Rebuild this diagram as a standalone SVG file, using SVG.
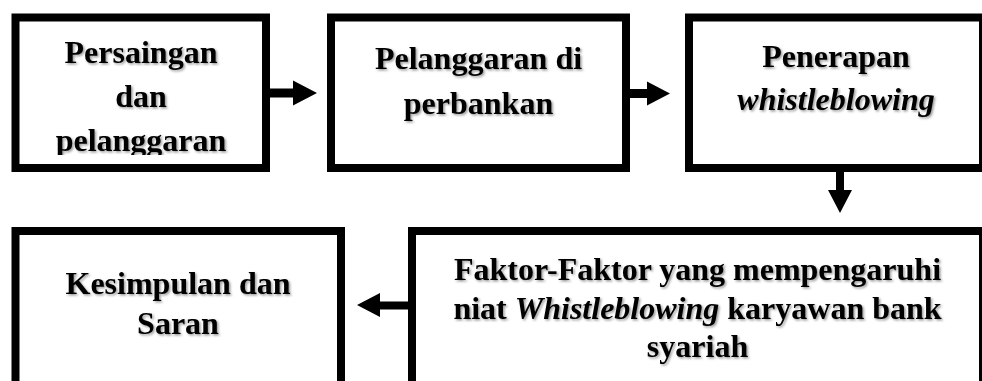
<svg xmlns="http://www.w3.org/2000/svg" width="982" height="381" viewBox="0 0 982 381">
<defs>
<style>
.box{fill:#fff;stroke:#000;stroke-width:8}
.t{font-family:"Liberation Serif","Times New Roman",serif;font-weight:bold;font-size:32px;fill:#000;text-anchor:middle}
.i{font-style:italic}
.arr{fill:#000;stroke:none}
</style>
<filter id="sh" x="-10%" y="-30%" width="120%" height="160%"><feDropShadow dx="1.5" dy="1.5" stdDeviation="1" flood-color="#000" flood-opacity="0.4"/></filter>
<clipPath id="c1"><rect x="20" y="22" width="242" height="133"/></clipPath>
</defs>
<rect width="982" height="381" fill="#fff"/>
<g id="connectors">
<polygon class="arr" points="270,88.5 293,88.5 293,80.5 317,93 293,105.5 293,97.5 270,97.5"/>
<polygon class="arr" points="630,89 647,89 647,81.5 670,93.5 647,105.5 647,98 630,98"/>
<polygon class="arr" points="836,172 844,172 844,190 852,190 840,213 828,190 836,190"/>
<polygon class="arr" points="408,301.5 380,301.5 380,293 357,305 380,317 380,309.5 408,309.5"/>
</g>
<g id="node1">
<rect class="box" x="15.5" y="17.5" width="250.5" height="150.5"/>
<g clip-path="url(#c1)"><text class="t" filter="url(#sh)"><tspan x="141" y="63">Persaingan</tspan><tspan x="141" y="107">dan</tspan><tspan x="141" y="151">pelanggaran</tspan></text></g>
</g>
<g id="node2">
<rect class="box" x="331" y="17.5" width="295" height="150.5"/>
<text class="t" filter="url(#sh)"><tspan x="478.5" y="69">Pelanggaran di</tspan><tspan x="478.5" y="114">perbankan</tspan></text>
</g>
<g id="node3">
<rect class="box" x="689" y="17.5" width="294" height="150.5"/>
<text class="t" filter="url(#sh)"><tspan x="836" y="67">Penerapan</tspan><tspan class="i" x="836" y="110">whistleblowing</tspan></text>
</g>
<g id="node4">
<rect class="box" x="412" y="231" width="571" height="154"/>
<text class="t" filter="url(#sh)"><tspan x="697.5" y="280">Faktor-Faktor yang mempengaruhi</tspan><tspan x="697.5" y="319">niat <tspan class="i">Whistleblowing</tspan> karyawan bank</tspan><tspan x="697.5" y="357">syariah</tspan></text>
</g>
<g id="node5">
<rect class="box" x="15.5" y="231" width="325.5" height="154"/>
<text class="t" filter="url(#sh)"><tspan x="178" y="294">Kesimpulan dan</tspan><tspan x="178" y="334">Saran</tspan></text>
</g>
</svg>
